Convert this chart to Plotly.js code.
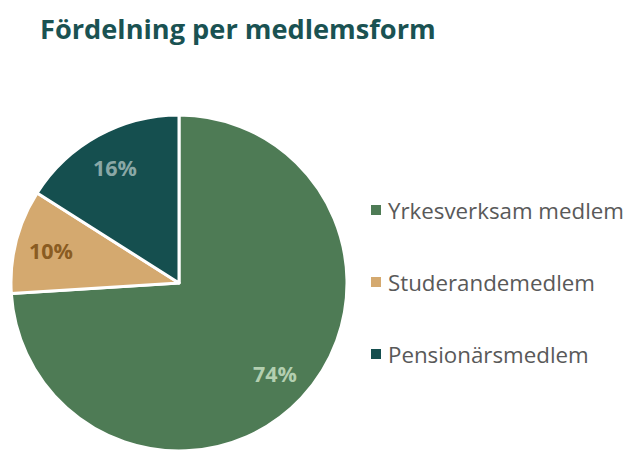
<!DOCTYPE html>
<html>
<head>
<meta charset="utf-8">
<script src="https://cdn.plot.ly/plotly-3.0.1.min.js"></script>
<style>html,body{margin:0;padding:0;background:#fff;}#chart{width:625px;height:455px;}</style>
</head>
<body>
<div id="chart"></div>
<script>
const categories = ["Yrkesverksam medlem", "Studerandemedlem", "Pensionärsmedlem"];
const values = [74, 10, 16];
const sliceColors = ["#4E7B55", "#D4A96F", "#154F4F"];
const labelColors = ["#B3CFB0", "#8A5C22", "#8AA8A6"];

const W = 625, H = 455;
// pie geometry (pixels)
const cx = 179, cy = 283, R = 168;
const total = values.reduce((a, b) => a + b, 0);

const trace = {
  type: "pie",
  labels: categories,
  values: values,
  sort: false,
  direction: "clockwise",
  rotation: 0,
  marker: {colors: sliceColors, line: {color: "#ffffff", width: 3}},
  textinfo: "none",
  hoverinfo: "label+percent",
  showlegend: false,
  domain: {x: [(cx - R) / W, (cx + R) / W], y: [(H - cy - R) / H, (H - cy + R) / H]}
};

const annotations = [];
const shapes = [];
let cum = 0;
values.forEach((v, i) => {
  const mid = (cum + v / 2) / total * 2 * Math.PI;
  cum += v;
  const px = cx + 0.785 * R * Math.sin(mid);
  const py = cy - 0.785 * R * Math.cos(mid);
  annotations.push({
    xref: "paper", yref: "paper", x: px / W, y: 1 - py / H,
    xanchor: "center", yanchor: "middle", showarrow: false,
    text: "<b>" + Math.round(v / total * 100) + "%</b>",
    font: {family: "Open Sans", size: 21.5, color: labelColors[i]}
  });
});

// legend
const legX = 371, legY0 = 210, legStep = 72, sq = 10;
categories.forEach((c, i) => {
  const y = legY0 + i * legStep;
  shapes.push({
    type: "rect", xref: "paper", yref: "paper",
    x0: legX / W, x1: (legX + sq) / W, y0: 1 - (y - sq / 2) / H, y1: 1 - (y + sq / 2) / H,
    fillcolor: sliceColors[i], line: {width: 0}
  });
  annotations.push({
    xref: "paper", yref: "paper", x: (legX + sq + 5) / W, y: 1 - y / H,
    xanchor: "left", yanchor: "middle", showarrow: false,
    text: c, font: {family: "Open Sans", size: 22.3, color: "#595959"}
  });
});

const layout = {
  width: W, height: H,
  margin: {l: 0, r: 0, t: 0, b: 0},
  paper_bgcolor: "#ffffff",
  title: {
    text: "<b>Fördelning per medlemsform</b>",
    font: {family: "Open Sans", size: 27.2, color: "#1A5252"},
    x: 40 / W, xanchor: "left", y: 1 - 29 / H, yanchor: "middle"
  },
  showlegend: false,
  annotations: annotations,
  shapes: shapes
};

Plotly.newPlot("chart", [trace], layout, {displayModeBar: false, staticPlot: true});
</script>
</body>
</html>
